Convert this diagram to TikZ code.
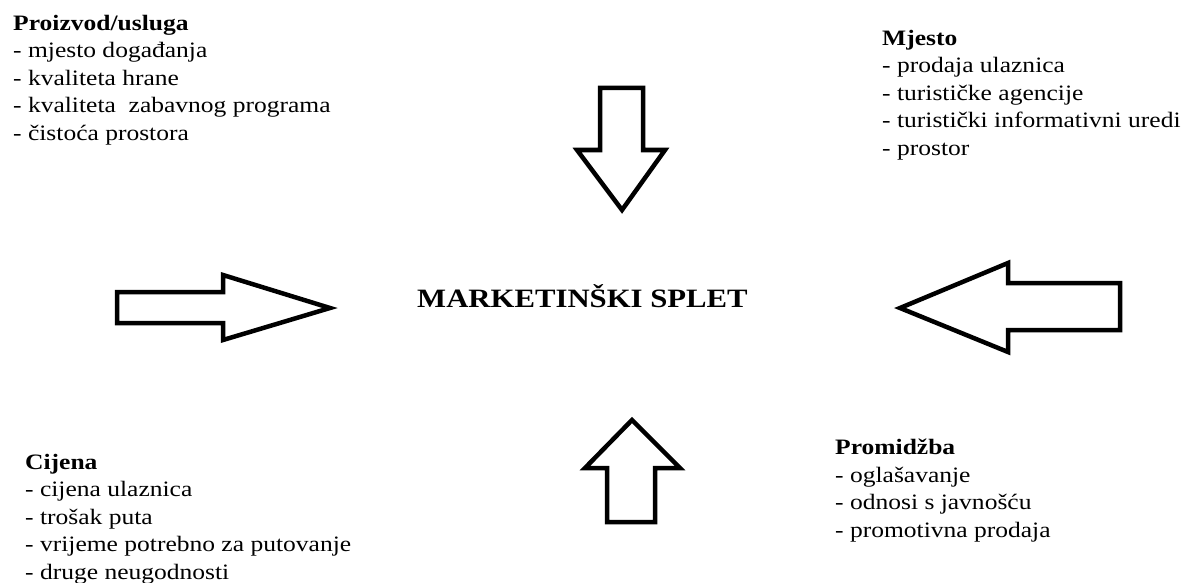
\documentclass[tikz,border=0pt]{standalone}
\usepackage{fontspec}
\setmainfont{Liberation Serif}[FakeStretch=1.16]
\usetikzlibrary{positioning}

\begin{document}
\begin{tikzpicture}[x=1pt, y=-1pt,
  listnode/.style={align=left, anchor=north west, inner sep=0pt, font=\fontsize{22}{27.5}\selectfont},
  bigarrow/.style={draw=black, line width=4.5pt, fill=white}]
\useasboundingbox (0,0) rectangle (1183,583);

\node (mix) [anchor=base, inner sep=0pt, font=\fontsize{26.5}{30}\selectfont\bfseries] at (582.5,307) {MARKETINŠKI SPLET};

\node (proizvod) [listnode] at (13,15) {\textbf{Proizvod/usluga}\\- mjesto događanja\\- kvaliteta hrane\\- kvaliteta~ zabavnog programa\\- čistoća prostora};
\node (mjesto) [listnode] at (882,30) {\textbf{Mjesto}\\- prodaja ulaznica\\- turističke agencije\\- turistički informativni uredi\\- prostor};
\node (cijena) [listnode] at (25,454) {\textbf{Cijena}\\- cijena ulaznica\\- trošak puta\\- vrijeme potrebno za putovanje\\- druge neugodnosti};
\node (promidzba) [listnode] at (835,439) {\textbf{Promidžba}\\- oglašavanje\\- odnosi s javnošću\\- promotivna prodaja};

% arrows into the mix
\draw [bigarrow] (600,88) -- (643,88) -- (643,150) -- (665,150) -- (622,210) -- (577,150) -- (600,150) -- cycle;
\draw [bigarrow] (117,292) -- (223,292) -- (223,275) -- (330,308) -- (223,340) -- (223,323) -- (117,323) -- cycle;
\draw [bigarrow] (1120,283) -- (1008,283) -- (1008,263) -- (900,308) -- (1008,352) -- (1008,330) -- (1120,330) -- cycle;
\draw [bigarrow] (607,522) -- (607,468) -- (585,468) -- (632,420) -- (680,468) -- (655,468) -- (655,522) -- cycle;

\end{tikzpicture}
\end{document}
